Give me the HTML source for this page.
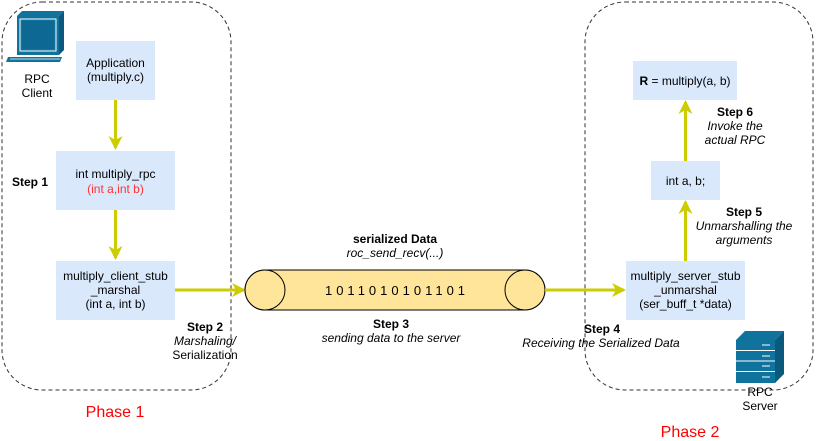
<!DOCTYPE html>
<html><head><meta charset="utf-8"><style>
html,body{margin:0;padding:0;background:#fff;}
svg{display:block;font-family:"Liberation Sans",Arial,sans-serif;}
</style></head><body>
<svg width="816" height="441" viewBox="0 0 816 441" xmlns="http://www.w3.org/2000/svg">
<defs>
<marker id="ah" markerWidth="14" markerHeight="14" refX="12" refY="7" orient="auto" markerUnits="userSpaceOnUse">
<path d="M0,0 L14,7 L0,14 L4,7 Z" fill="#CCCC00"/>
</marker>
</defs>
<rect x="2" y="2" width="229" height="388" rx="40" fill="none" stroke="#333" stroke-dasharray="4,3"/>
<rect x="585" y="2" width="228" height="388" rx="40" fill="none" stroke="#333" stroke-dasharray="4,3"/>

<g>
<polygon points="17,16 22,11 64,11 59,16" fill="#10739E"/>
<polygon points="59,16 64,11 64,50 59,55" fill="#0b5a7e"/>
<rect x="17" y="16" width="42" height="39" fill="#10739E"/>
<rect x="20" y="19" width="36" height="32" fill="none" stroke="#fff" stroke-width="1"/>
<rect x="22" y="21" width="32" height="28" fill="#0d6894"/>
<polygon points="8,57 62,57 60,62 6,62" fill="#10739E"/>
<line x1="10" y1="59" x2="60" y2="59" stroke="#fff" stroke-width="0.8"/>
</g>
<text x="37" y="83" font-size="12" text-anchor="middle">RPC</text>
<text x="37" y="97" font-size="12" text-anchor="middle">Client</text>

<g>
<polygon points="736,340 745,331 784,331 775,340" fill="#10739E"/>
<polygon points="775,340 784,331 784,374 775,383" fill="#0b5a7e"/>
<rect x="736" y="340" width="39" height="43" fill="#10739E"/>
<g stroke="#fff" stroke-width="1">
<line x1="736" y1="350.5" x2="775" y2="350.5"/><line x1="736" y1="361" x2="775" y2="361"/><line x1="736" y1="371.5" x2="775" y2="371.5"/>
<line x1="762" y1="345" x2="770" y2="345"/><line x1="762" y1="356" x2="770" y2="356"/><line x1="762" y1="366" x2="770" y2="366"/><line x1="762" y1="377" x2="770" y2="377"/>
</g>
</g>
<text x="760" y="396" font-size="12" text-anchor="middle">RPC</text>
<text x="760" y="410" font-size="12" text-anchor="middle">Server</text>

<rect x="76" y="41" width="79" height="59" fill="#DAE8FC"/>
<text x="115.5" y="67" font-size="12" text-anchor="middle">Application</text>
<text x="115.5" y="81" font-size="12" text-anchor="middle">(multiply.c)</text>

<rect x="56" y="151" width="119" height="59" fill="#DAE8FC"/>
<text x="115.5" y="178" font-size="12" text-anchor="middle">int multiply_rpc</text>
<text x="115.5" y="193" font-size="12" text-anchor="middle" fill="#FF3333">(int a,int b)</text>

<rect x="56" y="261" width="119" height="59" fill="#DAE8FC"/>
<text x="115.5" y="280" font-size="12" text-anchor="middle">multiply_client_stub</text>
<text x="115.5" y="294" font-size="12" text-anchor="middle">_marshal</text>
<text x="115.5" y="308" font-size="12" text-anchor="middle">(int a, int b)</text>

<text x="12" y="186" font-size="12" font-weight="bold">Step 1</text>

<line x1="115.5" y1="100" x2="115.5" y2="148" stroke="#CCCC00" stroke-width="3" marker-end="url(#ah)"/>
<line x1="115.5" y1="210" x2="115.5" y2="258" stroke="#CCCC00" stroke-width="3" marker-end="url(#ah)"/>
<line x1="175" y1="290" x2="244" y2="290" stroke="#CCCC00" stroke-width="3" marker-end="url(#ah)"/>

<text x="205" y="331" font-size="12" font-weight="bold" text-anchor="middle">Step 2</text>
<text x="205" y="345" font-size="12" font-style="italic" text-anchor="middle">Marshaling/</text>
<text x="205" y="359" font-size="12" text-anchor="middle">Serialization</text>

<path d="M265,270 L525,270 A20,20 0 0 1 525,310 L265,310 A20,20 0 0 1 265,270 Z" fill="#FFE599" stroke="#000"/>
<ellipse cx="265" cy="290" rx="20" ry="20" fill="#FFE599" stroke="#000"/>
<ellipse cx="525" cy="290" rx="20" ry="20" fill="#FFE599" stroke="#000"/>
<text x="397" y="295" font-size="13" text-anchor="middle" letter-spacing="4">1011010101101</text>
<text x="395" y="243" font-size="12" font-weight="bold" text-anchor="middle">serialized Data</text>
<text x="395" y="257" font-size="12" font-style="italic" text-anchor="middle">roc_send_recv(...)</text>
<text x="391" y="328" font-size="12" font-weight="bold" text-anchor="middle">Step 3</text>
<text x="391" y="342" font-size="12" font-style="italic" text-anchor="middle">sending data to the server</text>

<line x1="545" y1="290" x2="624" y2="290" stroke="#CCCC00" stroke-width="3" marker-end="url(#ah)"/>
<text x="602" y="333" font-size="12" font-weight="bold" text-anchor="middle">Step 4</text>
<text x="601" y="347" font-size="12" font-style="italic" text-anchor="middle">Receiving the Serialized Data</text>

<rect x="626" y="261" width="119" height="59" fill="#DAE8FC"/>
<text x="685.5" y="280" font-size="12" text-anchor="middle">multiply_server_stub</text>
<text x="685.5" y="294" font-size="12" text-anchor="middle">_unmarshal</text>
<text x="685.5" y="308" font-size="12" text-anchor="middle">(ser_buff_t *data)</text>

<rect x="651" y="161" width="69" height="39" fill="#DAE8FC"/>
<text x="685.5" y="185" font-size="12" text-anchor="middle">int a, b;</text>

<rect x="633" y="61" width="104" height="39" fill="#DAE8FC"/>
<text x="685" y="85" font-size="12" text-anchor="middle"><tspan font-weight="bold">R</tspan> = multiply(a, b)</text>

<line x1="685.5" y1="261" x2="685.5" y2="202" stroke="#CCCC00" stroke-width="3" marker-end="url(#ah)"/>
<line x1="685.5" y1="161" x2="685.5" y2="102" stroke="#CCCC00" stroke-width="3" marker-end="url(#ah)"/>

<text x="744" y="216" font-size="12" font-weight="bold" text-anchor="middle">Step 5</text>
<text x="744" y="230" font-size="12" font-style="italic" text-anchor="middle">Unmarshalling the</text>
<text x="744" y="244" font-size="12" font-style="italic" text-anchor="middle">arguments</text>

<text x="735" y="116" font-size="12" font-weight="bold" text-anchor="middle">Step 6</text>
<text x="735" y="130" font-size="12" font-style="italic" text-anchor="middle">Invoke the</text>
<text x="735" y="144" font-size="12" font-style="italic" text-anchor="middle">actual RPC</text>

<text x="115" y="417" font-size="16" fill="#FF0000" text-anchor="middle">Phase 1</text>
<text x="690" y="437" font-size="16" fill="#FF0000" text-anchor="middle">Phase 2</text>
</svg>
</body></html>
